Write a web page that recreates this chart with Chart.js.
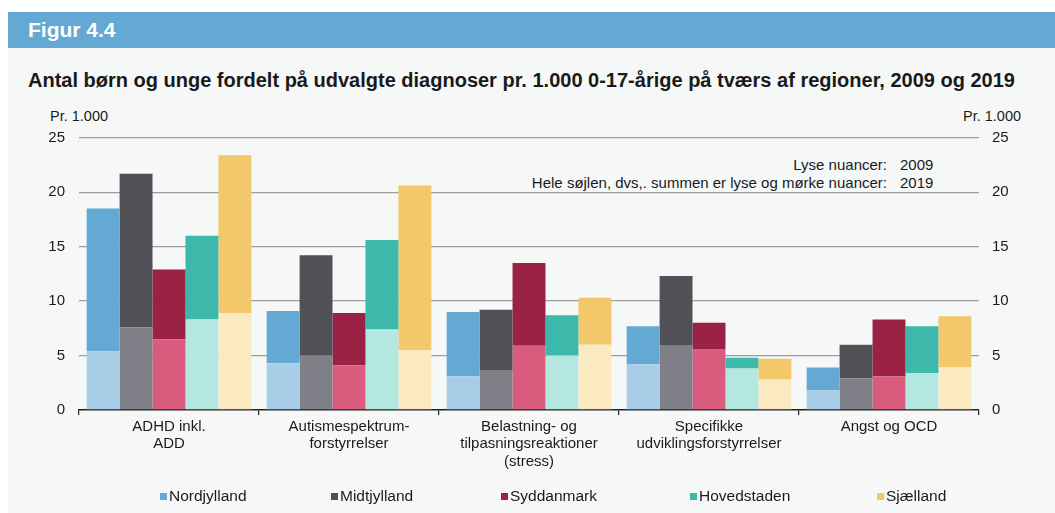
<!DOCTYPE html>
<html lang="da">
<head>
<meta charset="utf-8">
<title>Figur 4.4</title>
<script src="https://cdn.jsdelivr.net/npm/chart.js@4/dist/chart.umd.min.js"></script>
<style>
  html, body { margin: 0; padding: 0; }
  body { width: 1055px; height: 513px; overflow: hidden; background: #fff; position: relative;
    font-family: "Liberation Sans", Arial, Helvetica, sans-serif; color: #1a1a1a; }
  .head { position: absolute; left: 8px; top: 12px; width: 1047px; height: 36px; background: #63a9d4; }
  .head span { position: absolute; left: 20px; top: 5.7px; font-size: 21px; font-weight: bold; color: #fff; line-height: 24px; }
  .panel { position: absolute; left: 8px; top: 48px; width: 1047px; height: 465px; background: #f6f8f8; }
  .title { position: absolute; left: 28px; top: 68px; font-size: 20px; font-weight: bold; line-height: 24px; white-space: nowrap; }
  .unit { position: absolute; top: 107px; font-size: 14.5px; line-height: 18px; }
  .note { position: absolute; font-size: 15px; line-height: 18px; white-space: nowrap; }
  .note.lbl { right: 168px; }
  .note.yr { left: 900px; }
  #chart { position: absolute; left: 8px; top: 100px; }
  .legend-item { position: absolute; top: 487px; font-size: 15.5px; line-height: 18px; white-space: nowrap; }
  .legend-item i { display: inline-block; width: 7px; height: 7px; margin-right: 2px; vertical-align: 1px; }
</style>
</head>
<body>
<div class="head"><span>Figur 4.4</span></div>
<div class="panel"></div>
<div class="title">Antal børn og unge fordelt på udvalgte diagnoser pr. 1.000 0-17-årige på tværs af regioner, 2009 og 2019</div>
<div class="unit" style="left:50px">Pr. 1.000</div>
<div class="unit" style="left:963px">Pr. 1.000</div>
<div class="note lbl" style="top:156px">Lyse nuancer:</div>
<div class="note yr" style="top:156px">2009</div>
<div class="note lbl" style="top:174px">Hele søjlen, dvs,. summen er lyse og mørke nuancer:</div>
<div class="note yr" style="top:174px">2019</div>
<canvas id="chart" width="1047" height="413"></canvas>
<div id="legend"></div>
<script>
(function() {
  'use strict';

  // diagnoser (x-akse)
  var categories = [
    ['ADHD inkl.', 'ADD'],
    ['Autismespektrum-', 'forstyrrelser'],
    ['Belastning- og', 'tilpasningsreaktioner', '(stress)'],
    ['Specifikke', 'udviklingsforstyrrelser'],
    ['Angst og OCD']
  ];
  var regions = ['Nordjylland', 'Midtjylland', 'Syddanmark', 'Hovedstaden', 'Sjælland'];
  var yTicks = [0, 5, 10, 15, 20, 25];

  // pr. 1.000 0-17-årige
  var nord2009 = [5.4, 4.3, 3.1, 4.2, 1.8];
  var nord2019 = [18.5, 9.1, 9.0, 7.7, 3.9];
  var midt2009 = [7.6, 5.0, 3.6, 5.9, 2.9];
  var midt2019 = [21.7, 14.2, 9.2, 12.3, 6.0];
  var syd2009 = [6.5, 4.1, 5.9, 5.6, 3.1];
  var syd2019 = [12.9, 8.9, 13.5, 8.0, 8.3];
  var hoved2009 = [8.3, 7.4, 5.0, 3.8, 3.4];
  var hoved2019 = [16.0, 15.6, 8.7, 4.8, 7.7];
  var sjael2009 = [8.9, 5.5, 6.0, 2.8, 3.9];
  var sjael2019 = [23.4, 20.6, 10.3, 4.7, 8.6];

  var values2009 = [nord2009, midt2009, syd2009, hoved2009, sjael2009];
  var values2019 = [nord2019, midt2019, syd2019, hoved2019, sjael2019];

  var darkColors = ['#63a9d4', '#505156', '#9a2245', '#3db9ac', '#f3c86a'];
  var lightColors = ['#a7cee6', '#7f7f88', '#d95c7f', '#b5e7e1', '#fbe9c2'];
  var legendLeft = [160, 331, 501, 690, 877];
  var textColor = '#1a1a1a';
  var font = '"Liberation Sans", Arial, Helvetica, sans-serif';

  var datasets = [];
  regions.forEach(function(region, i) {
    datasets.push({
      label: region + ' 2009',
      data: values2009[i],
      backgroundColor: lightColors[i],
      stack: region,
      isLight: true
    });
    datasets.push({
      label: region,
      data: values2019[i].map(function(v, j) { return Math.round((v - values2009[i][j]) * 100) / 100; }),
      backgroundColor: darkColors[i],
      stack: region
    });
  });

  Chart.defaults.font.family = font;
  Chart.defaults.color = textColor;

  var chart = new Chart(document.getElementById('chart'), {
    type: 'bar',
    data: { labels: categories, datasets: datasets },
    options: {
      responsive: false,
      devicePixelRatio: 1,
      animation: false,
      datasets: { bar: { barPercentage: 1, categoryPercentage: 0.915, borderWidth: 0 } },
      layout: { padding: { top: 37.7, left: 0, right: 0, bottom: 0 } },
      plugins: { legend: { display: false }, tooltip: { enabled: false } },
      scales: {
        x: {
          stacked: true,
          grid: { display: true, offset: true, drawOnChartArea: false, drawTicks: true, tickLength: 5, color: '#222', lineWidth: 1.2 },
          border: { display: true, color: '#222', width: 1.5 },
          ticks: { autoSkip: false, maxRotation: 0, minRotation: 0, padding: 3, color: textColor, font: { size: 15, lineHeight: 1.17 } },
          afterFit: function(scale) { scale.height = 103; }
        },
        y: {
          stacked: true,
          position: 'left',
          min: 0,
          max: 25,
          afterBuildTicks: function(scale) { scale.ticks = yTicks.map(function(v) { return { value: v }; }); },
          ticks: { padding: 14, color: textColor, font: { size: 15 } },
          grid: {
            drawTicks: false,
            lineWidth: 1.3,
            color: function(ctx) { return ctx.tick && ctx.tick.value === 0 ? 'rgba(0,0,0,0)' : '#9c9c9c'; }
          },
          border: { display: false },
          afterFit: function(scale) { scale.width = 71; }
        },
        y2: {
          position: 'right',
          min: 0,
          max: 25,
          afterBuildTicks: function(scale) { scale.ticks = yTicks.map(function(v) { return { value: v }; }); },
          ticks: { padding: 13, color: textColor, font: { size: 15 } },
          grid: { display: false, drawTicks: false },
          border: { display: false },
          afterFit: function(scale) { scale.width = 76; }
        }
      }
    }
  });

  // legende: kun de mørke nuancer, en pr. region
  var items = Chart.defaults.plugins.legend.labels.generateLabels(chart).filter(function(item) {
    return !chart.data.datasets[item.datasetIndex].isLight;
  });
  document.getElementById('legend').innerHTML = items.map(function(item, i) {
    return '<div class="legend-item" style="left:' + legendLeft[i] + 'px"><i style="background:' + item.fillStyle + '"></i>' + item.text + '</div>';
  }).join('');
})();
</script>
</body>
</html>
